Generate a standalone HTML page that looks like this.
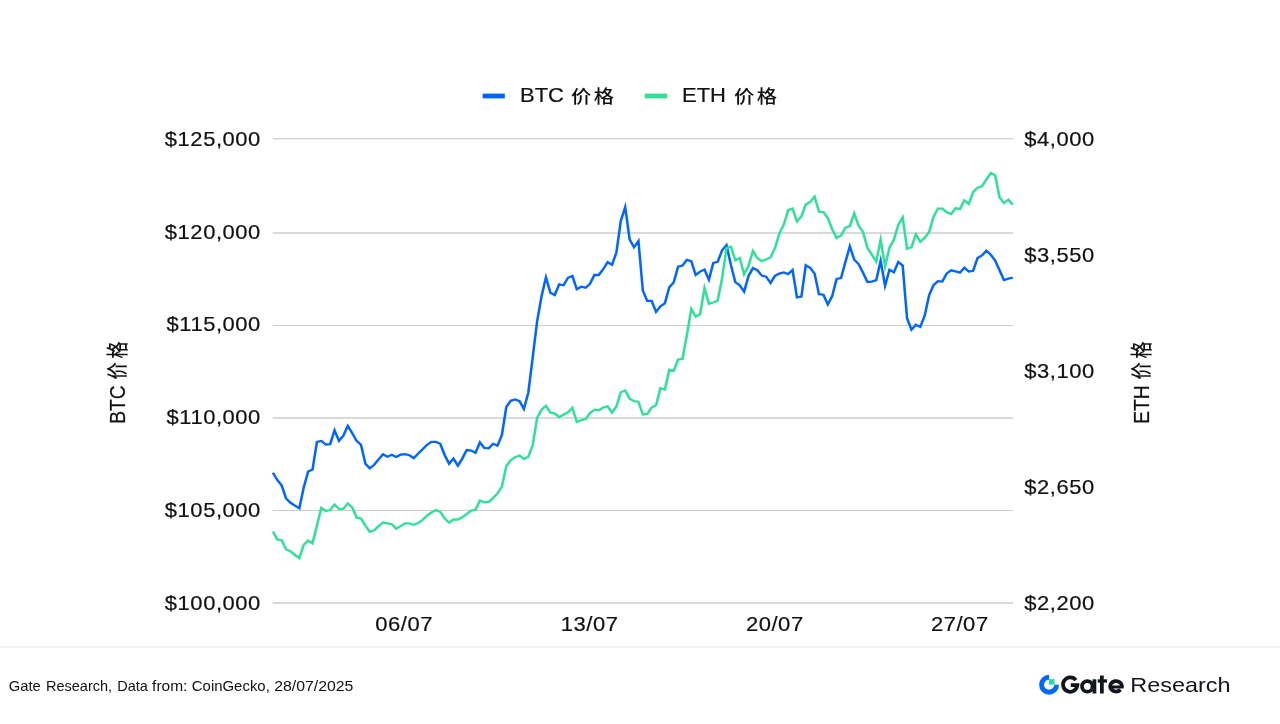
<!DOCTYPE html><html><head><meta charset="utf-8"><title>chart</title><style>html,body{margin:0;padding:0;background:#fff;overflow:hidden}</style></head><body><svg width="1280" height="724" viewBox="0 0 1280 724" style="display:block;will-change:transform;font-family:'Liberation Sans',sans-serif">
<rect width="1280" height="724" fill="#fff"/>
<rect x="272.8" y="138" width="740.2" height="1" fill="#d2d2d2"/>
<rect x="272.8" y="139" width="740.2" height="1" fill="#f0f0f0"/>
<rect x="272.8" y="232" width="740.2" height="2" fill="#dadada"/>
<rect x="272.8" y="325" width="740.2" height="1" fill="#cdcdcd"/>
<rect x="272.8" y="417" width="740.2" height="2" fill="#dadada"/>
<rect x="272.8" y="510" width="740.2" height="1" fill="#cdcdcd"/>
<rect x="272.8" y="602" width="740.2" height="2" fill="#dadada"/>
<clipPath id="cp"><rect x="262.9" y="120" width="760" height="500"/></clipPath><g clip-path="url(#cp)"><g transform="scale(1.1,1)" stroke-linecap="butt"><polyline points="248.09,472.7 252.09,480.0 256.10,485.6 260.10,498.4 264.11,502.8 268.11,505.6 272.11,508.3 276.12,487.5 280.12,471.6 284.12,469.5 288.13,441.9 292.13,440.9 296.13,444.5 300.14,444.1 304.14,430.4 308.15,440.9 312.15,435.6 316.15,425.8 320.16,433.1 324.16,440.9 328.16,444.8 332.17,463.8 336.17,468.3 340.17,464.8 344.18,459.4 348.18,454.2 352.19,456.7 356.19,454.8 360.19,457.0 364.20,454.7 368.20,454.1 372.20,455.2 376.21,458.1 380.21,453.6 384.21,449.2 388.22,444.8 392.22,441.9 396.23,441.9 400.23,443.8 404.23,455.0 408.24,463.8 412.24,458.6 416.24,465.6 420.25,458.6 424.25,450.0 428.25,450.6 432.26,452.8 436.26,442.5 440.27,448.0 444.27,448.3 448.27,443.8 452.28,445.6 456.28,435.0 460.28,406.9 464.29,400.8 468.29,399.5 472.29,401.1 476.30,408.9 480.30,392.5 484.31,357.2 488.31,321.2 492.31,296.2 496.32,277.3 500.32,292.7 504.32,295.0 508.33,284.4 512.33,285.3 516.33,277.8 520.34,275.9 524.34,289.2 528.35,286.7 532.35,287.7 536.35,283.8 540.36,275.0 544.36,275.0 548.36,269.2 552.37,262.2 556.37,264.8 560.37,252.5 564.38,220.8 568.38,207.1 572.39,239.5 576.39,247.3 580.39,241.0 584.40,290.6 588.40,300.9 592.40,300.9 596.41,311.9 600.41,306.4 604.41,303.3 608.42,287.2 612.42,282.5 616.43,266.6 620.43,265.6 624.43,259.8 628.44,261.1 632.44,275.0 636.44,271.6 640.45,269.5 644.45,279.7 648.45,263.0 652.46,261.9 656.46,250.2 660.47,245.1 664.47,265.0 668.47,282.2 672.48,285.3 676.48,291.6 680.48,275.9 684.49,268.1 688.49,270.2 692.49,275.6 696.50,276.7 700.50,283.0 704.51,275.9 708.51,273.6 712.51,272.5 716.52,274.1 720.52,270.0 724.52,297.3 728.53,296.6 732.53,265.3 736.53,267.8 740.54,273.6 744.54,294.2 748.55,294.7 752.55,304.5 756.55,296.1 760.56,278.9 764.56,278.1 768.56,262.0 772.57,246.4 776.57,259.7 780.57,264.1 784.58,272.7 788.58,282.0 792.59,281.6 796.59,280.2 800.59,260.9 804.60,285.7 808.60,269.8 812.60,272.3 816.61,262.0 820.61,265.6 824.61,318.4 828.62,329.7 832.62,324.7 836.63,326.9 840.63,315.6 844.63,295.3 848.64,285.2 852.64,281.2 856.64,281.6 860.65,273.4 864.65,270.3 868.65,271.4 872.66,272.7 876.66,267.7 880.67,271.6 884.67,270.8 888.67,258.1 892.68,255.5 896.68,250.8 900.68,254.7 904.69,260.6 908.69,270.3 912.69,280.0 916.70,278.6 920.70,277.7" fill="none" stroke="#0066ff" stroke-width="2.3" stroke-linejoin="miter" stroke-miterlimit="10"/>
<polyline points="248.09,531.6 252.09,539.4 256.10,540.2 260.10,549.5 264.11,551.3 268.11,555.0 272.11,558.1 276.12,544.8 280.12,540.5 284.12,543.3 288.13,525.6 292.13,507.8 296.13,510.9 300.14,510.0 304.14,504.5 308.15,508.9 312.15,508.9 316.15,503.4 320.16,507.3 324.16,517.5 328.16,518.6 332.17,525.6 336.17,531.9 340.17,530.3 344.18,526.1 348.18,522.5 352.19,523.4 356.19,524.2 360.19,528.8 364.20,526.1 368.20,523.3 372.20,523.4 376.21,524.8 380.21,523.0 384.21,519.8 388.22,515.5 392.22,512.5 396.23,510.0 400.23,512.0 404.23,518.3 408.24,522.7 412.24,519.5 416.24,519.5 420.25,517.2 424.25,514.2 428.25,510.6 432.26,509.8 436.26,500.5 440.27,502.3 444.27,502.0 448.27,498.1 452.28,493.4 456.28,486.7 460.28,466.1 464.29,460.3 468.29,457.2 472.29,455.5 476.30,459.1 480.30,456.7 484.31,445.0 488.31,417.8 492.31,409.7 496.32,405.8 500.32,412.5 504.32,413.6 508.33,417.0 512.33,414.7 516.33,412.3 520.34,407.8 524.34,421.9 528.35,420.2 532.35,419.1 536.35,413.1 540.36,409.7 544.36,410.3 548.36,407.5 552.37,406.4 556.37,412.7 560.37,406.4 564.38,392.3 568.38,390.5 572.39,398.6 576.39,401.2 580.39,401.7 584.40,414.5 588.40,413.9 592.40,407.5 596.41,405.3 600.41,388.0 604.41,389.7 608.42,369.7 612.42,370.9 616.43,359.5 620.43,358.8 624.43,335.3 628.44,309.0 632.44,316.6 636.44,314.2 640.45,288.1 644.45,303.8 648.45,302.5 652.46,300.6 656.46,278.3 660.47,248.1 664.47,246.7 668.47,260.3 672.48,258.0 676.48,274.4 680.48,265.8 684.49,250.9 688.49,258.0 692.49,261.2 696.50,259.4 700.50,257.5 704.51,248.1 708.51,233.6 712.51,224.7 716.52,210.2 720.52,208.6 724.52,221.4 728.53,216.4 732.53,204.4 736.53,202.0 740.54,196.6 744.54,211.7 748.55,212.0 752.55,218.0 756.55,229.2 760.56,238.0 764.56,235.5 768.56,227.7 772.57,226.2 776.57,213.3 780.57,225.8 784.58,232.0 788.58,248.1 792.59,254.7 796.59,261.7 800.59,239.7 804.60,266.5 808.60,247.7 812.60,239.8 816.61,225.0 820.61,217.5 824.61,248.8 828.62,247.2 832.62,234.4 836.63,241.9 840.63,237.8 844.63,232.0 848.64,216.9 852.64,208.6 856.64,208.6 860.65,212.2 864.65,214.1 868.65,208.1 872.66,209.1 876.66,200.3 880.67,203.9 884.67,192.2 888.67,187.8 892.68,186.2 896.68,179.7 900.68,173.1 904.69,175.3 908.69,197.3 912.69,203.1 916.70,199.7 920.70,204.7" fill="none" stroke="#2fe198" stroke-width="2.3" stroke-linejoin="miter" stroke-miterlimit="10"/></g></g>
<text transform="translate(260.9,145.8) scale(1.11,1)" font-size="19.8" text-anchor="end" fill="#111" stroke="#111" stroke-width="0.2" letter-spacing="0.5">$125,000</text>
<text transform="translate(260.9,238.6) scale(1.11,1)" font-size="19.8" text-anchor="end" fill="#111" stroke="#111" stroke-width="0.2" letter-spacing="0.5">$120,000</text>
<text transform="translate(260.9,331.3) scale(1.11,1)" font-size="19.8" text-anchor="end" fill="#111" stroke="#111" stroke-width="0.2" letter-spacing="0.5">$115,000</text>
<text transform="translate(260.9,424.1) scale(1.11,1)" font-size="19.8" text-anchor="end" fill="#111" stroke="#111" stroke-width="0.2" letter-spacing="0.5">$110,000</text>
<text transform="translate(260.9,516.8) scale(1.11,1)" font-size="19.8" text-anchor="end" fill="#111" stroke="#111" stroke-width="0.2" letter-spacing="0.5">$105,000</text>
<text transform="translate(260.9,609.6) scale(1.11,1)" font-size="19.8" text-anchor="end" fill="#111" stroke="#111" stroke-width="0.2" letter-spacing="0.5">$100,000</text>
<text transform="translate(1024.3,145.8) scale(1.11,1)" font-size="19.8" text-anchor="start" fill="#111" stroke="#111" stroke-width="0.2" letter-spacing="0.5">$4,000</text>
<text transform="translate(1024.3,261.8) scale(1.11,1)" font-size="19.8" text-anchor="start" fill="#111" stroke="#111" stroke-width="0.2" letter-spacing="0.5">$3,550</text>
<text transform="translate(1024.3,377.7) scale(1.11,1)" font-size="19.8" text-anchor="start" fill="#111" stroke="#111" stroke-width="0.2" letter-spacing="0.5">$3,100</text>
<text transform="translate(1024.3,493.7) scale(1.11,1)" font-size="19.8" text-anchor="start" fill="#111" stroke="#111" stroke-width="0.2" letter-spacing="0.5">$2,650</text>
<text transform="translate(1024.3,609.6) scale(1.11,1)" font-size="19.8" text-anchor="start" fill="#111" stroke="#111" stroke-width="0.2" letter-spacing="0.5">$2,200</text>
<text transform="translate(404.2,630.8) scale(1.11,1)" font-size="19.8" text-anchor="middle" fill="#111" stroke="#111" stroke-width="0.2" letter-spacing="0.5">06/07</text>
<text transform="translate(589.7,630.8) scale(1.11,1)" font-size="19.8" text-anchor="middle" fill="#111" stroke="#111" stroke-width="0.2" letter-spacing="0.5">13/07</text>
<text transform="translate(774.8,630.8) scale(1.11,1)" font-size="19.8" text-anchor="middle" fill="#111" stroke="#111" stroke-width="0.2" letter-spacing="0.5">20/07</text>
<text transform="translate(959.8,630.8) scale(1.11,1)" font-size="19.8" text-anchor="middle" fill="#111" stroke="#111" stroke-width="0.2" letter-spacing="0.5">27/07</text>
<rect x="482.6" y="93.6" width="22.2" height="4.8" fill="#0066ff"/>
<rect x="644.8" y="93.6" width="22.2" height="4.8" fill="#2fe198"/>
<text transform="translate(520,102.4) scale(1.11,1)" font-size="19.8" text-anchor="start" fill="#111" stroke="#111" stroke-width="0.2" >BTC</text>
<text transform="translate(571.03,102.6) scale(1.11,1)" font-size="18.3" font-weight="500" letter-spacing="2.1" text-anchor="start" fill="#111" style="font-family:'Liberation Sans','Noto Sans CJK SC',sans-serif">价格</text>
<text transform="translate(682,102.4) scale(1.11,1)" font-size="19.8" text-anchor="start" fill="#111" stroke="#111" stroke-width="0.2" >ETH</text>
<text transform="translate(734.03,102.6) scale(1.11,1)" font-size="18.3" font-weight="500" letter-spacing="2.1" text-anchor="start" fill="#111" style="font-family:'Liberation Sans','Noto Sans CJK SC',sans-serif">价格</text>
<text transform="translate(125.4,423.8) scale(1.18,1) rotate(-90)" font-size="19.2" fill="#111" stroke="#111" stroke-width="0.2">BTC</text>
<text transform="translate(125.3,379.6) scale(1.244,1) rotate(-90)" font-size="17.2" font-weight="500" letter-spacing="4" fill="#111" style="font-family:'Liberation Sans','Noto Sans CJK SC',sans-serif">价格</text>
<text transform="translate(1149.1,423.8) scale(1.18,1) rotate(-90)" font-size="19.2" fill="#111" stroke="#111" stroke-width="0.2">ETH</text>
<text transform="translate(1148.8,379.6) scale(1.244,1) rotate(-90)" font-size="17.2" font-weight="500" letter-spacing="4" fill="#111" style="font-family:'Liberation Sans','Noto Sans CJK SC',sans-serif">价格</text>
<rect x="0" y="646" width="1280" height="1" fill="#ededed"/><rect x="0" y="647" width="1280" height="1" fill="#f3f3f3"/>
<text x="8.85" y="690.7" font-size="15" fill="#111" textLength="31.95" lengthAdjust="spacingAndGlyphs">Gate</text>
<text x="46.00" y="690.7" font-size="15" fill="#111" textLength="66.10" lengthAdjust="spacingAndGlyphs">Research,</text>
<text x="117.20" y="690.7" font-size="15" fill="#111" textLength="30.60" lengthAdjust="spacingAndGlyphs">Data</text>
<text x="152.10" y="690.7" font-size="15" fill="#111" textLength="35.30" lengthAdjust="spacingAndGlyphs">from:</text>
<text x="191.80" y="690.7" font-size="15" fill="#111" textLength="78.00" lengthAdjust="spacingAndGlyphs">CoinGecko,</text>
<text x="274.20" y="690.7" font-size="15" fill="#111" textLength="79.10" lengthAdjust="spacingAndGlyphs">28/07/2025</text>
<path d="M1049.05,674.75 A9.95,9.95 0 1,0 1059.0,684.7 L1054.1,684.7 A5.05,5.05 0 1,1 1049.05,679.6500000000001 Z" fill="#0068ff"/>
<rect x="1048.95" y="679.1500000000001" width="5.5" height="5.55" fill="#1fe0a0"/>
<path d="M1075.87,680.07 A7.2,7.2 0 1,0 1077.40,685.10 L1070.80,685.10" fill="none" stroke="#13151d" stroke-width="3.75" stroke-linejoin="miter"/>
<circle cx="1087.3" cy="686.4" r="5.25" fill="none" stroke="#13151d" stroke-width="3.75"/>
<rect x="1092.55" y="679.3" width="3.75" height="14.2" fill="#13151d"/>
<rect x="1100.0" y="675.5" width="3.75" height="18" fill="#13151d"/>
<rect x="1097.75" y="679.3" width="9.3" height="3.3" fill="#13151d"/>
<path d="M1121.70,687.30 A5.8,5.25 0 1,0 1120.47,689.63" fill="none" stroke="#13151d" stroke-width="3.75"/>
<rect x="1110.10" y="685.50" width="13.47" height="3.0" fill="#13151d"/>
<text x="1130.2" y="692.1" font-size="20.8" fill="#13151d" textLength="100.4" lengthAdjust="spacingAndGlyphs">Research</text>
</svg></body></html>
